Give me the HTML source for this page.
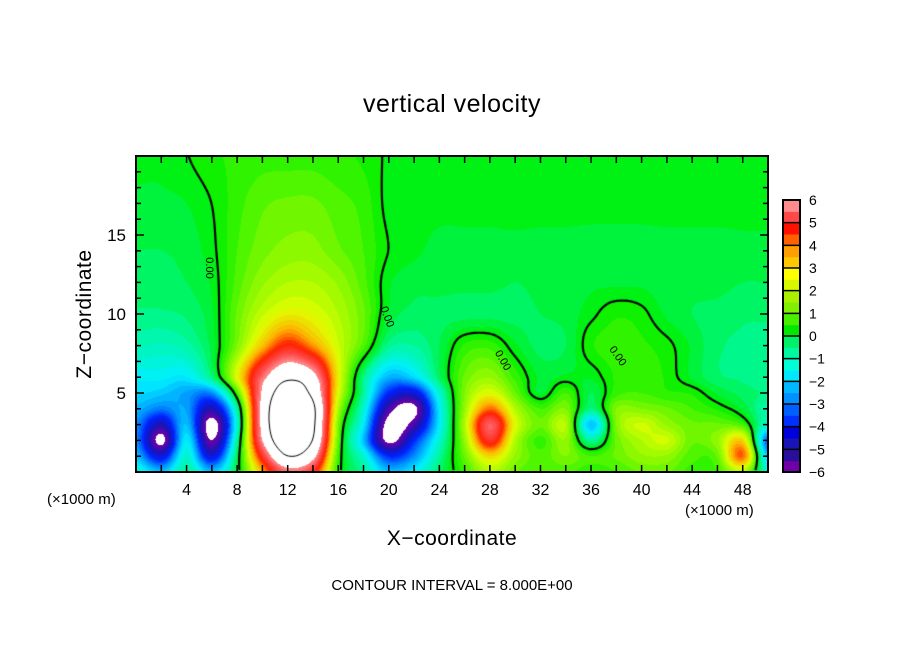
<!DOCTYPE html>
<html><head><meta charset="utf-8">
<style>
html,body{margin:0;padding:0;background:#fff;}
body{width:904px;height:654px;position:relative;overflow:hidden;font-family:"Liberation Sans",sans-serif;color:#000;}
.t{position:absolute;white-space:nowrap;}
</style></head>
<body>
<div class="t" style="left:0;width:904px;text-align:center;top:90px;font-size:25px;letter-spacing:0.5px;">vertical velocity</div>
<canvas id="cv" width="632" height="316" style="position:absolute;left:136px;top:156px;"></canvas>
<svg id="ov" width="904" height="654" style="position:absolute;left:0;top:0;"></svg>
<div class="t" style="left:85px;top:314px;font-size:21px;transform:translate(-50%,-50%) rotate(-90deg);letter-spacing:0.5px;">Z−coordinate</div>
<div class="t" style="left:0;width:904px;text-align:center;top:527px;font-size:21px;letter-spacing:0.5px;">X−coordinate</div>
<div class="t" style="left:47px;top:491px;font-size:15px;">(×1000 m)</div>
<div class="t" style="left:685px;top:502px;font-size:15px;">(×1000 m)</div>
<div class="t" style="left:0;width:904px;text-align:center;top:577px;font-size:15px;">CONTOUR INTERVAL = 8.000E+00</div>
<script>
const xKm=[0,2,4,6,8,10,12,14,16,18,20,22,24,26,28,30,32,34,36,38,40,42,44,46,48,50];
const zKm=[0,1,2,3,4,5,6,8,10,12,14,17,20];
const w_z0 =[-1.5,-2.5,-1.0,-2.5,-0.3,3.0,5.5,4.5,0.3,-1.0,-2.5,-2.0,-0.6,0.4,1.5,0.8,0.5,0.6,0.3,0.5,0.8,0.8,0.4,0.5,1.5,-1.5];
const w_z1 =[-2.5,-4.5,-1.5,-4.5,-0.5,4.5,8.0,6.5,0.5,-1.5,-4.0,-3.0,-1.0,0.8,2.5,1.2,0.6,1.0,0.5,0.8,1.2,1.2,0.6,0.8,3.5,-2.5];
const w_z2 =[-3.0,-6.3,-2.0,-6.0,-1.0,6.0,9.5,8.0,0.8,-2.5,-6.3,-4.0,-1.5,1.2,4.5,1.5,0.4,1.2,-1.0,0.8,1.5,1.8,0.8,1.2,2.5,-3.5];
const w_z3 =[-3.0,-5.0,-2.5,-6.5,-1.5,6.5,10,8.5,1.0,-2.0,-6.5,-5.5,-2.0,1.5,5.3,2.0,0.8,1.5,-2.5,1.0,1.8,1.2,0.8,0.8,0.5,-1.5];
const w_z4 =[-2.6,-3.2,-2.8,-5.0,-1.0,6.5,10,8.5,1.5,-1.5,-5.5,-6.3,-2.0,1.2,3.5,1.5,0.5,1.0,-0.8,1.0,1.0,0.8,0.5,0.2,-0.3,-1.2];
const w_z5 =[-2.2,-2.4,-2.8,-3.0,0.5,6.2,9.0,7.5,2.0,-1.0,-4.0,-4.5,-1.5,1.0,2.0,0.8,-0.3,0.5,-0.5,0.4,0.5,0.3,0.2,-0.3,-0.6,-0.8];
const w_z6 =[-1.9,-1.9,-2.0,-0.8,2.0,5.5,7.5,6.5,2.2,-0.8,-2.6,-2.2,-0.6,0.8,1.2,0.4,-0.3,-0.2,-0.2,0.3,0.4,0.2,-0.3,-0.7,-0.8,-1.0];
const w_z8 =[-1.2,-1.3,-1.1,-0.4,1.0,2.8,4.2,3.2,1.8,0.6,-0.9,-1.0,-0.5,0.3,0.4,-0.2,-0.6,-0.5,0.2,0.4,0.3,0.1,-0.3,-0.7,-0.8,-0.9];
const w_z10=[-0.8,-0.8,-0.7,-0.3,0.8,1.7,2.2,2.0,1.5,0.8,-0.3,-0.6,-0.6,-0.6,-0.6,-0.6,-0.5,-0.4,-0.1,0.2,0.1,-0.3,-0.5,-0.6,-0.7,-0.7];
const w_z12=[-0.6,-0.6,-0.5,-0.2,0.6,1.2,1.5,1.5,1.2,0.6,-0.2,-0.4,-0.4,-0.4,-0.4,-0.5,-0.4,-0.4,-0.3,-0.3,-0.3,-0.4,-0.4,-0.4,-0.5,-0.5];
const w_z14=[-0.5,-0.5,-0.4,-0.1,0.5,0.9,1.1,1.1,0.8,0.5,0.0,-0.2,-0.3,-0.3,-0.3,-0.3,-0.3,-0.3,-0.3,-0.3,-0.3,-0.3,-0.3,-0.3,-0.3,-0.3];
const w_z17=[-0.3,-0.3,-0.25,0.0,0.4,0.7,0.8,0.8,0.6,0.4,-0.1,-0.2,-0.2,-0.2,-0.2,-0.2,-0.2,-0.2,-0.2,-0.2,-0.2,-0.2,-0.2,-0.2,-0.2,-0.2];
const w_z20=[-0.2,-0.2,-0.02,0.2,0.3,0.4,0.4,0.4,0.3,0.2,-0.05,-0.1,-0.1,-0.1,-0.1,-0.1,-0.1,-0.1,-0.1,-0.1,-0.1,-0.1,-0.1,-0.1,-0.1,-0.1];
const rows=[w_z0,w_z1,w_z2,w_z3,w_z4,w_z5,w_z6,w_z8,w_z10,w_z12,w_z14,w_z17,w_z20];
const levels=[-6,-5.5,-5,-4.5,-4,-3.5,-3,-2.5,-2,-1.5,-1,-0.5,0,0.5,1,1.5,2,2.5,3,3.5,4,4.5,5,5.5];
const levelColors=["#7000a8","#28109c","#1a14b4","#0000dc","#0030ff","#0060ff","#0090ff","#00b8ff","#00e8ff","#00ffd4","#00f8a0","#00f068","#00e800","#48f000","#80f000","#a8f000","#d8f800","#ffff00","#ffc800","#ffa000","#ff6000","#ff1000","#ff4848","#ff8c8c"];
const rampValues=[-6,-5,-4,-3,-2,-1,0,1,2,3,4,5,6];
const rampColors=["#7000a8","#1a14b4","#0020ff","#0090ff","#00f0ff","#00f8a0","#00f000","#80f800","#e0ff00","#ffb000","#ff2000","#ff4848","#ff9090"];
const cbTicks=[6,5,4,3,2,1,0,-1,-2,-3,-4,-5,-6];
const xTicks=[4,8,12,16,20,24,28,32,36,40,44,48];
const yTicks=[5,10,15];

const PL=136,PT=156,PW=632,PH=316,XMAX=50,ZMAX=20;
const sx=x=>PL+x/XMAX*PW, sy=z=>PT+PH-z/ZMAX*PH;

function cr(p0,p1,p2,p3,t){return 0.5*((2*p1)+(-p0+p2)*t+(2*p0-5*p1+4*p2-p3)*t*t+(-p0+3*p1-3*p2+p3)*t*t*t);}
function zIndex(z){for(let i=0;i<zKm.length-1;i++){if(z<=zKm[i+1])return i+(z-zKm[i])/(zKm[i+1]-zKm[i]);}return zKm.length-1;}
function val(x,z){
  const fx=x/(xKm[1]-xKm[0]);const ix=Math.floor(Math.min(fx,xKm.length-1.0001));const tx=fx-ix;
  const fz=zIndex(z);const iz=Math.floor(Math.min(fz,zKm.length-1.0001));const tz=fz-iz;
  const cx=i=>Math.max(0,Math.min(xKm.length-1,i)),cz=i=>Math.max(0,Math.min(zKm.length-1,i));
  const r=[];
  for(let k=-1;k<=2;k++){const row=rows[cz(iz+k)];r.push(cr(row[cx(ix-1)],row[cx(ix)],row[cx(ix+1)],row[cx(ix+2)],tx));}
  return cr(r[0],r[1],r[2],r[3],tz);
}
function hex(h){return [parseInt(h.substr(1,2),16),parseInt(h.substr(3,2),16),parseInt(h.substr(5,2),16)];}
function colorOf(v){
  if(v>6||v<-6)return [255,255,255];
  v=Math.floor(v/0.25)*0.25+0.125;
  let i=Math.min(rampValues.length-2,Math.max(0,Math.floor(v-rampValues[0])));
  const t=Math.max(0,Math.min(1,v-rampValues[i]));
  const a=hex(rampColors[i]),b=hex(rampColors[i+1]);
  return [a[0]+(b[0]-a[0])*t,a[1]+(b[1]-a[1])*t,a[2]+(b[2]-a[2])*t];
}
const cv=document.getElementById('cv');const ctx=cv.getContext('2d');
const img=ctx.createImageData(PW,PH);
const field=[];
for(let py=0;py<PH;py++){const z=(PH-py-0.5)/PH*ZMAX;const line=[];
  for(let px=0;px<PW;px++){const x=(px+0.5)/PW*XMAX;const v=val(x,z);line.push(v);
    const c=colorOf(v);const o=(py*PW+px)*4;img.data[o]=c[0];img.data[o+1]=c[1];img.data[o+2]=c[2];img.data[o+3]=255;}
  field.push(line);}
ctx.putImageData(img,0,0);
function contour(level,width){
  ctx.strokeStyle='#000';ctx.lineWidth=width;ctx.beginPath();const s=2;
  for(let y=0;y+s<PH;y+=s){for(let x=0;x+s<PW;x+=s){
    const a=field[y][x]-level,b=field[y][x+s]-level,c=field[y+s][x+s]-level,d=field[y+s][x]-level;
    const pts=[];
    if((a<0)!=(b<0))pts.push([x+s*a/(a-b),y]);
    if((b<0)!=(c<0))pts.push([x+s,y+s*b/(b-c)]);
    if((c<0)!=(d<0))pts.push([x+s*d/(d-c),y+s]);
    if((d<0)!=(a<0))pts.push([x,y+s*a/(a-d)]);
    if(pts.length>=2){ctx.moveTo(pts[0][0],pts[0][1]);ctx.lineTo(pts[1][0],pts[1][1]);}
    if(pts.length==4){ctx.moveTo(pts[2][0],pts[2][1]);ctx.lineTo(pts[3][0],pts[3][1]);}
  }}
  ctx.stroke();
}
contour(0,2.2);contour(8,1);contour(-8,1);

const NS='http://www.w3.org/2000/svg';const ov=document.getElementById('ov');
function mk(tag,attrs,parent){const e=document.createElementNS(NS,tag);for(const k in attrs)e.setAttribute(k,attrs[k]);(parent||ov).appendChild(e);return e;}
const frame=mk('rect',{x:PL,y:PT,width:PW,height:PH,fill:'none',stroke:'#000','stroke-width':2});


for(let x=2;x<XMAX;x+=2){
  const t1=mk('line',{x1:sx(x),x2:sx(x),y1:PT+PH,y2:PT+PH-7,stroke:'#000','stroke-width':1.5});
  
  
  const t2=mk('line',{x1:sx(x),x2:sx(x),y1:PT,y2:PT+7,stroke:'#000','stroke-width':1.5});
  
  
}
for(let z=1;z<ZMAX;z++){
  const L=(z%5==0)?8:5;
  const t1=mk('line',{x1:PL,x2:PL+L,y1:sy(z),y2:sy(z),stroke:'#000','stroke-width':1.5});
  
  
  const t2=mk('line',{x1:PL+PW,x2:PL+PW-L,y1:sy(z),y2:sy(z),stroke:'#000','stroke-width':1.5});
  
  
}
xTicks.forEach(v=>{const t=mk('text',{x:sx(v),y:495,'text-anchor':'middle','font-size':16,'font-family':'Liberation Sans, sans-serif'});t.textContent=String(v);
  
  });
yTicks.forEach(v=>{const t=mk('text',{x:126,y:sy(v)+6,'text-anchor':'end','font-size':17,'font-family':'Liberation Sans, sans-serif'});t.textContent=String(v);
  
  });
const CBX=783,CBW=17,CBT=200,CBB=472,bh=(CBB-CBT)/levels.length;
levels.forEach((lv,i)=>{const r=mk('rect',{x:CBX,y:CBB-(i+1)*bh,width:CBW,height:bh+0.5,fill:levelColors[i]});
  
  });
cbTicks.forEach(v=>{const y=CBT+(6-v)/12*(CBB-CBT);
  const l=mk('line',{x1:CBX,x2:CBX+CBW,y1:y,y2:y,stroke:'#000','stroke-width':1.5});
  
  
  const t=mk('text',{x:809,y:y+5,'font-size':14,'font-family':'Liberation Sans, sans-serif'});t.textContent=(v<0?'−':'')+Math.abs(v);
  
  });
const cbf=mk('rect',{x:CBX,y:CBT,width:CBW,height:CBB-CBT,fill:'none',stroke:'#000','stroke-width':2});


[[206,268,90],[384,318,70],[500,362,60],[615,358,55]].forEach(p=>{
  const t=mk('text',{x:p[0],y:p[1],'font-size':11,'text-anchor':'middle','font-family':'Liberation Sans, sans-serif',transform:'rotate('+p[2]+' '+p[0]+' '+p[1]+')'});
  t.textContent='0.00';
  
  });
</script>
</body></html>
